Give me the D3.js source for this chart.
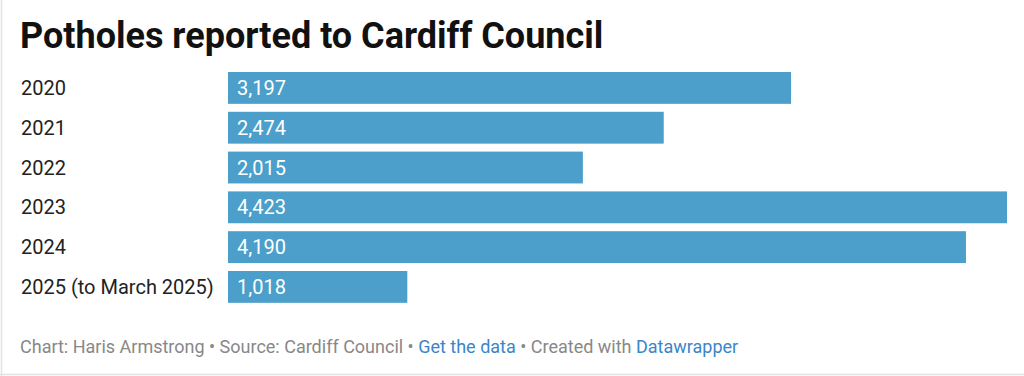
<!DOCTYPE html>
<html>
<head>
<meta charset="utf-8">
<script src="https://cdn.jsdelivr.net/npm/d3@7"></script>
<style>
  html, body { margin: 0; padding: 0; background: #fff; }
  svg { display: block; font-family: Roboto, "Noto Sans", sans-serif; }
</style>
</head>
<body>
<svg id="chart" width="1024" height="376"></svg>
<script>
// Data
const years = ["2020", "2021", "2022", "2023", "2024", "2025 (to March 2025)"];
const potholes = [3197, 2474, 2015, 4423, 4190, 1018];

const width = 1024, height = 376;
const margin = {left: 228, right: 17, top: 72};
const step = 39.8;

const svg = d3.select("#chart");

// frame edges
svg.append("line").attr("x1", 1.5).attr("x2", 1.5).attr("y1", 0).attr("y2", height)
    .attr("stroke", "#e2e2e2").attr("stroke-width", 1.5);
svg.append("line").attr("x1", 0).attr("x2", width).attr("y1", 374.5).attr("y2", 374.5)
    .attr("stroke", "#e2e2e2").attr("stroke-width", 1.5);

// Title
svg.append("text")
    .attr("x", 20).attr("y", 48)
    .style("font-size", "36px")
    .style("font-weight", 700)
    .attr("fill", "#111")
    .text("Potholes reported to Cardiff Council");

// Scales
const x = d3.scaleLinear().domain([0, d3.max(potholes)]).range([margin.left, width - margin.right]);
const y = d3.scaleBand().domain(years)
    .range([margin.top, margin.top + step * (years.length - 0.2)])
    .paddingInner(0.2).paddingOuter(0);

const data = years.map((d, i) => ({year: d, value: potholes[i]}));
const fmt = d3.format(",");

const rows = svg.append("g").selectAll("g").data(data).join("g");

rows.append("rect")
    .attr("x", x(0))
    .attr("y", d => y(d.year))
    .attr("width", d => x(d.value) - x(0))
    .attr("height", y.bandwidth())
    .attr("fill", "#4b9fca");

rows.append("text")
    .attr("x", 21)
    .attr("y", d => y(d.year) + y.bandwidth() / 2)
    .attr("dy", "0.35em")
    .style("font-size", "20px")
    .attr("fill", "#222")
    .text(d => d.year);

rows.append("text")
    .attr("x", x(0) + 9)
    .attr("y", d => y(d.year) + y.bandwidth() / 2)
    .attr("dy", "0.35em")
    .style("font-size", "20px")
    .attr("fill", "#fff")
    .text(d => fmt(d.value));

// Footer
const foot = svg.append("text")
    .attr("x", 20).attr("y", 353)
    .style("font-size", "18px")
    .attr("fill", "#888");
foot.append("tspan").text("Chart: Haris Armstrong • Source: Cardiff Council • ");
foot.append("tspan").attr("fill", "#3a86c8").text("Get the data");
foot.append("tspan").text(" • Created with ");
foot.append("tspan").attr("fill", "#3a86c8").text("Datawrapper");
</script>
</body>
</html>
